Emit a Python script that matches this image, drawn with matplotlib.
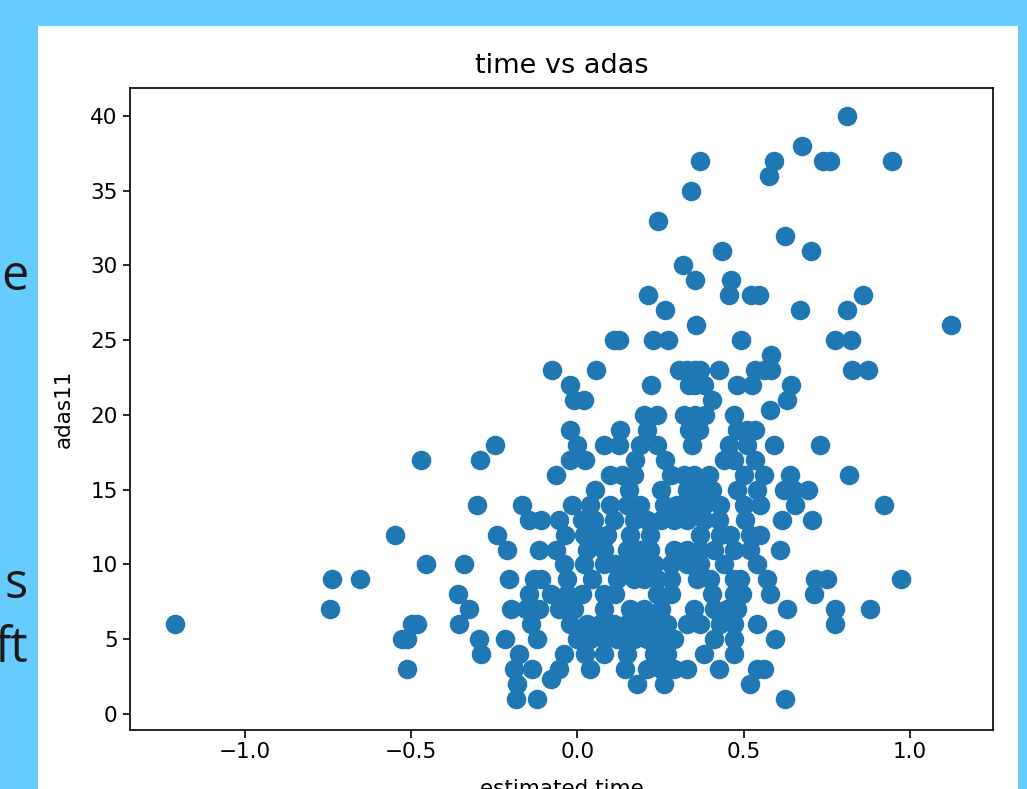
import matplotlib
matplotlib.use("Agg")
import matplotlib.pyplot as plt
from matplotlib.patches import Rectangle


# ── Data (row by row of adas11) ───────────────────────────────────────────────

est_time = [
    0.811,                                              # 40
    0.676,                                              # 38
    0.368, 0.592, 0.739, 0.761, 0.946,                  # 37
    0.576,                                              # 36
    0.343,                                              # 35
    0.243,                                              # 33
    0.624,                                              # 32
    0.435, 0.703,                                       # 31
    0.317,                                              # 30
    0.353, 0.462,                                       # 29
    0.211, 0.457, 0.522, 0.546, 0.858,                  # 28
    0.263, 0.669, 0.811,                                # 27
    0.357, 1.124,                                       # 26
    0.109, 0.124, 0.228, 0.273, 0.493, 0.776, 0.823,    # 25
    0.581,                                              # 24
    -0.078, 0.056, 0.305, 0.330, 0.355, 0.370, 0.425, 0.535, 0.560, 0.582, 0.826, 0.873,  # 23
    -0.023, 0.222, 0.335, 0.355, 0.380, 0.480, 0.525, 0.641,                              # 22
    -0.011, 0.019, 0.405, 0.629,                                                          # 21
    0.580,                                                                                # 20.33
    0.200, 0.240, 0.320, 0.355, 0.385, 0.470,                                             # 20
    -0.021, 0.129, 0.210, 0.335, 0.365, 0.480, 0.510, 0.535,                              # 19
    -0.247, -0.001, 0.079, 0.124, 0.189, 0.240, 0.345, 0.455, 0.510, 0.590, 0.730,        # 18
    -0.472, -0.294, -0.021, 0.024, 0.174, 0.264, 0.440, 0.470, 0.535,                     # 17
    -0.066, 0.099, 0.134, 0.169, 0.280, 0.320, 0.350, 0.395, 0.500, 0.560, 0.640, 0.818,  # 16
    0.054, 0.154, 0.250, 0.330, 0.370, 0.405, 0.480, 0.540, 0.620, 0.650, 0.695,         # 15
    -0.302, -0.166, -0.016, 0.039, 0.099, 0.149, 0.189, 0.260, 0.300, 0.350, 0.380,
    0.430, 0.500, 0.550, 0.655, 0.921,                                                    # 14
    -0.146, -0.111, -0.056, 0.014, 0.049, 0.109, 0.169, 0.210, 0.250, 0.290, 0.330,
    0.380, 0.425, 0.505, 0.615, 0.706,                                                    # 13
    -0.550, -0.242, -0.036, 0.019, 0.059, 0.089, 0.159, 0.219, 0.370, 0.430, 0.460,
    0.520, 0.550,                                                                         # 12
    -0.211, -0.116, -0.066, 0.029, 0.079, 0.149, 0.189, 0.219, 0.290, 0.330, 0.370,
    0.410, 0.470, 0.520, 0.610,                                                           # 11
    -0.457, -0.342, -0.041, 0.019, 0.079, 0.114, 0.149, 0.189, 0.229, 0.280, 0.330,
    0.370, 0.440, 0.540,                                                                  # 10
    -0.738, -0.655, -0.207, -0.131, -0.111, -0.031, 0.044, 0.120, 0.169, 0.199, 0.240,
    0.280, 0.360, 0.400, 0.470, 0.490, 0.570, 0.716, 0.751, 0.974,                        # 9
    -0.360, -0.146, -0.081, -0.031, 0.014, 0.079, 0.114, 0.240, 0.280, 0.405, 0.470,
    0.495, 0.580, 0.711,                                                                  # 8
    -0.744, -0.325, -0.200, -0.156, -0.116, -0.056, -0.011, 0.079, 0.159, 0.199, 0.250,
    0.350, 0.410, 0.450, 0.480, 0.630, 0.776, 0.879,                                      # 7
    -1.212, -0.497, -0.482, -0.357, -0.141, -0.021, 0.029, 0.069, 0.109, 0.149, 0.189,
    0.229, 0.270, 0.330, 0.370, 0.430, 0.470, 0.540, 0.776,                               # 6
    -0.527, -0.512, -0.295, -0.217, -0.121, -0.001, 0.039, 0.079, 0.119, 0.169, 0.209,
    0.250, 0.290, 0.410, 0.470, 0.595,                                                    # 5
    -0.290, -0.177, -0.041, 0.024, 0.079, 0.149, 0.229, 0.270, 0.380, 0.470,             # 4
    -0.514, -0.191, -0.136, -0.056, 0.039, 0.144, 0.209, 0.250, 0.290, 0.330, 0.425,
    0.540, 0.560,                                                                         # 3
    -0.081,                                                                               # 2.33
    -0.181, 0.179, 0.260, 0.520,                                                          # 2
    -0.186, -0.121, 0.625,                                                                # 1
]

row_values = [40, 38, 37, 36, 35, 33, 32, 31, 30, 29, 28, 27, 26, 25, 24, 23, 22, 21,
              20.33, 20, 19, 18, 17, 16, 15, 14, 13, 12, 11, 10, 9, 8, 7, 6, 5, 4, 3,
              2.33, 2, 1]
row_counts = [1, 1, 5, 1, 1, 1, 1, 2, 1, 2, 5, 3, 2, 7, 1, 12, 8, 4,
              1, 6, 8, 11, 9, 12, 11, 16, 16, 13, 15, 14, 20, 14, 18, 19, 16, 10, 13,
              1, 4, 3]

adas11 = [v for v, n in zip(row_values, row_counts) for _ in range(n)]

side_words = ["e", "s", "ft"]          # cut-off slide text on the left
side_baselines = [290, 598, 662]       # pixel rows of the baselines


# ── Figure ────────────────────────────────────────────────────────────────────

W, H = 1027, 789
fig = plt.figure(figsize=(W / 100, H / 100), dpi=100, facecolor="#66ccff")

# white figure card sitting on the slide (behind the axes)
fig.patches.append(Rectangle((38 / W, 0), 980 / W, (H - 26) / H,
                             transform=fig.transFigure, facecolor="white",
                             edgecolor="none", zorder=-10))

for word, base in zip(side_words, side_baselines):
    fig.text(28 / W, 1 - base / H, word, ha="right", va="baseline",
             fontsize=35, family=["Open Sans", "DejaVu Sans"], color="#1a1a1a")

ax = fig.add_axes([130 / W, 1 - 730 / H, 863 / W, 642 / H])
ax.set_zorder(1)
ax.scatter(est_time, adas11, s=170, color="#1f77b4")

ax.set_xlim(-1.346, 1.25)
ax.set_ylim(-1.07, 41.87)
ax.set_xticks([-1.0, -0.5, 0.0, 0.5, 1.0])
ax.set_yticks(range(0, 41, 5))

ax.set_title("time vs adas", fontsize=19.5, pad=11)
ax.set_xlabel("estimated time", fontsize=15.5, labelpad=12)
ax.set_ylabel("adas11", fontsize=15.5, labelpad=12)
ax.tick_params(labelsize=15.5, length=5.4, width=1.2)
for sp in ax.spines.values():
    sp.set_linewidth(1.2)

fig.savefig("out.png", dpi=100, facecolor=fig.get_facecolor())
